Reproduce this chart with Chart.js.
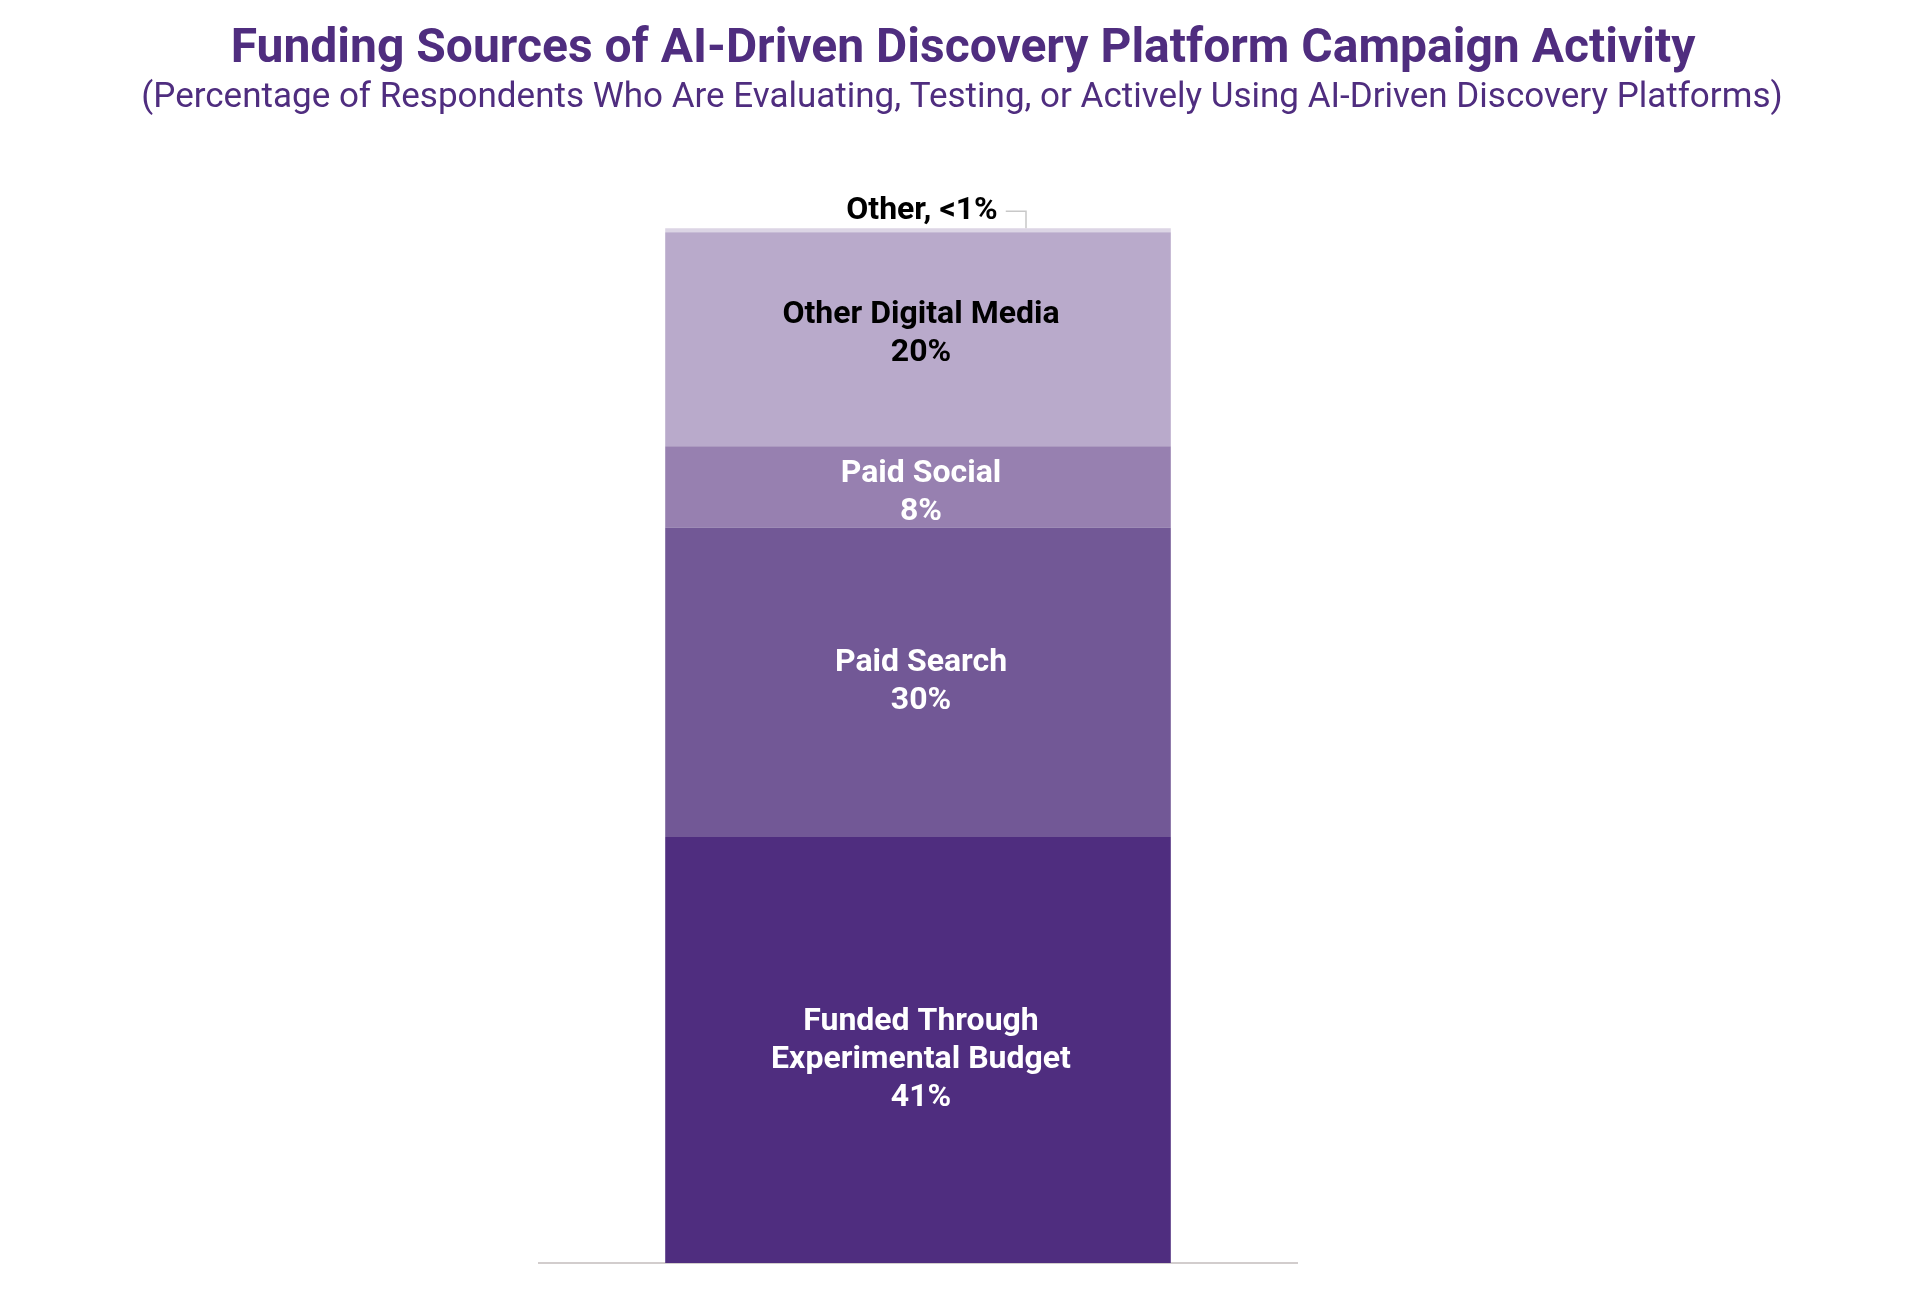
<!DOCTYPE html>
<html>
<head>
<meta charset="utf-8">
<script src="https://cdn.jsdelivr.net/npm/chart.js@4.4.1/dist/chart.umd.min.js"></script>
<style>
  html, body { margin: 0; padding: 0; background: #fff; }
  #wrap { width: 1920px; height: 1298px; position: relative; }
</style>
</head>
<body>
<div id="wrap"><canvas id="myChart"></canvas></div>
<script>
// data
const categories = ['Funding'];
const seriesNames = ['Funded Through\nExperimental Budget', 'Paid Search', 'Paid Social', 'Other Digital Media', 'Other'];
const seriesValues = [41.0, 29.8, 7.8, 20.6, 0.4];
const valueLabels = ['41%', '30%', '8%', '20%', '<1%'];
const seriesColors = ['#4F2D7F', '#725896', '#9780B0', '#B9AACB', '#DCD5E5'];
const labelColors = ['#ffffff', '#ffffff', '#ffffff', '#000000', '#000000'];

const titleText = 'Funding Sources of AI-Driven Discovery Platform Campaign Activity';
const subtitleText = '(Percentage of Respondents Who Are Evaluating, Testing, or Actively Using AI-Driven Discovery Platforms)';

const PURPLE = '#4F2D7F';
const LABEL_FONT = 'bold 32px Roboto';
// small vertical nudges so the in-bar labels sit where the original put them
const labelNudge = [10, 0, 6, -5, 0];

// title + subtitle drawn across the whole canvas (the built-in title is squeezed by the side padding)
const headings = {
    id: 'headings',
    afterDraw(chart) {
        const ctx = chart.ctx;
        ctx.save();
        ctx.textAlign = 'center';
        ctx.textBaseline = 'alphabetic';
        ctx.fillStyle = PURPLE;
        ctx.font = 'bold 48px Roboto';
        ctx.fillText(titleText, 963, 62);
        ctx.font = '35px Roboto';
        ctx.fillText(subtitleText, 962, 107);
        ctx.restore();
    }
};

// draws the labels inside each segment, and the outside callout for "Other"
const segmentLabels = {
    id: 'segmentLabels',
    afterDatasetsDraw(chart) {
        const ctx = chart.ctx;
        ctx.save();
        ctx.font = LABEL_FONT;
        ctx.textAlign = 'center';
        ctx.textBaseline = 'middle';
        chart.data.datasets.forEach((ds, i) => {
            const bar = chart.getDatasetMeta(i).data[0];
            if (!bar) return;
            if (i === seriesNames.length - 1) {
                // small slice: label sits above the bar with a leader line
                const text = seriesNames[i] + ', ' + valueLabels[i];
                const ty = bar.y - 17;
                const tx = bar.x + 4;
                ctx.fillStyle = labelColors[i];
                ctx.fillText(text, tx, ty);
                const w = ctx.measureText(text).width;
                const x0 = tx + w / 2 + 8;
                const x1 = bar.x + 108;
                ctx.strokeStyle = '#c8c8c8';
                ctx.lineWidth = 1.5;
                ctx.beginPath();
                ctx.moveTo(x0, ty);
                ctx.lineTo(x1, ty);
                ctx.lineTo(x1, bar.y);
                ctx.stroke();
                return;
            }
            const lines = seriesNames[i].split('\n').concat([valueLabels[i]]);
            const lh = 38;
            const cy = (bar.y + bar.base) / 2 + labelNudge[i];
            const start = cy - (lines.length - 1) * lh / 2;
            ctx.fillStyle = labelColors[i];
            lines.forEach((t, k) => ctx.fillText(t, bar.x + 3, start + k * lh));
        });
        ctx.restore();
    }
};

const ctx = document.getElementById('myChart').getContext('2d');
const chart = new Chart(ctx, {
    type: 'bar',
    data: {
        labels: categories,
        datasets: seriesNames.map((name, i) => ({
            label: name,
            data: [seriesValues[i]],
            backgroundColor: seriesColors[i],
            borderWidth: 0,
            categoryPercentage: 1,
            barPercentage: 0.667
        }))
    },
    options: {
        responsive: true,
        maintainAspectRatio: false,
        animation: false,
        layout: {
            padding: { left: 539, right: 623, top: 224, bottom: 35 }
        },
        plugins: {
            legend: { display: false },
            tooltip: { enabled: false },
            title: { display: false }
        },
        scales: {
            x: {
                stacked: true,
                ticks: { display: false },
                grid: { display: false, drawTicks: false },
                border: { display: true, color: '#d2cdcd', width: 2 }
            },
            y: {
                stacked: true,
                display: false,
                min: 0,
                max: 100
            }
        }
    },
    plugins: [segmentLabels, headings]
});
</script>
</body>
</html>
